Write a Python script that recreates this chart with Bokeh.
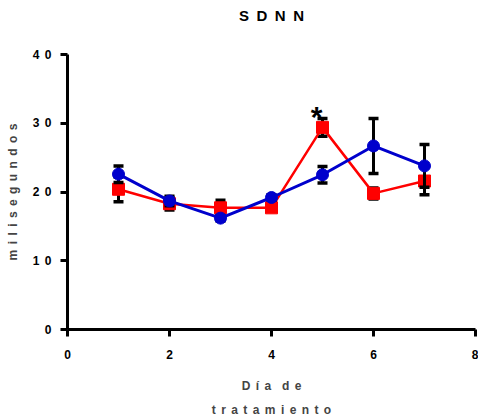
from bokeh.plotting import figure
from bokeh.models import ColumnDataSource, Range1d, FixedTicker, Label, Title
from bokeh.embed import file_html
from bokeh.resources import INLINE

# Treatment day and SDNN (ms) for the two groups, mean and error
days = [1, 2, 3, 4, 5, 6, 7]
red_mean = [20.4, 18.3, 17.7, 17.7, 29.4, 19.8, 21.6]
red_err = [1.8, 0.9, 1.1, 0.4, 1.3, 0.8, 2.0]
blue_mean = [22.6, 18.7, 16.2, 19.2, 22.5, 26.7, 23.8]
blue_err = [1.2, 0.7, 0.4, 0.4, 1.2, 4.0, 3.1]

x_ticks = [0, 2, 4, 6, 8]
y_ticks = [0, 10, 20, 30, 40]

title_text = "SDNN"
y_label = "milisegundos"
x_label_lines = ["Día de", "tratamiento"]
star_day = 5

FONT = "Liberation Sans"
RED = "#FF0000"
BLUE = "#0000CC"
TRACK = "\u2005\u2009"   # wide letter tracking


def track(s, gap=TRACK):
    """Spread the letters of a string apart."""
    return (gap + gap).join(gap.join(w) for w in s.split(" "))


p = figure(width=478, height=420, output_backend="svg", toolbar_location=None,
           x_range=Range1d(0, 8), y_range=Range1d(0, 40),
           min_border_left=67, min_border_right=3, min_border_top=53,
           min_border_bottom=91)

# an empty spacer next to the frame pushes the title towards the top edge
p.add_layout(Title(text=" ", text_font_size="1px", standoff=24), "above")
p.add_layout(Title(text=track(title_text, "\u2002"), align="center", text_font=FONT,
                   text_font_size="15px", text_font_style="bold",
                   text_color="black", standoff=8), "above")

p.grid.visible = False
p.outline_line_color = None
p.background_fill_color = "white"
p.border_fill_color = "white"

for ax in (p.xaxis[0], p.yaxis[0]):
    ax.axis_line_width = 3
    ax.major_tick_line_width = 3
    ax.major_tick_out = 7
    ax.major_tick_in = 0
    ax.minor_tick_line_color = None
    ax.major_label_text_font = FONT
    ax.major_label_text_font_size = "12px"
    ax.major_label_text_font_style = "bold"
    ax.major_label_text_color = "black"

p.xaxis.ticker = FixedTicker(ticks=x_ticks)
p.xaxis.major_label_standoff = 13
p.xaxis.axis_label = "\n".join(track(s) for s in x_label_lines)
p.xaxis.axis_label_text_font = FONT
p.xaxis.axis_label_text_font_size = "12px"
p.xaxis.axis_label_text_font_style = "bold"
p.xaxis.axis_label_text_line_height = 1.75
p.xaxis.axis_label_standoff = 17

p.yaxis.ticker = FixedTicker(ticks=y_ticks)
p.yaxis.major_label_overrides = {t: track(str(t)) for t in y_ticks}
p.yaxis.major_label_standoff = 9
p.yaxis.axis_label = track(y_label)
p.yaxis.axis_label_text_font = FONT
p.yaxis.axis_label_text_font_size = "12px"
p.yaxis.axis_label_text_font_style = "bold"
p.yaxis.axis_label_standoff = 10


def draw_series(mean, err, color, marker, lw):
    src = ColumnDataSource(dict(
        x=days, y=mean,
        lo=[m - e for m, e in zip(mean, err)],
        hi=[m + e for m, e in zip(mean, err)]))
    p.segment(x0="x", y0="lo", x1="x", y1="hi", source=src,
              line_color="black", line_width=3)
    p.scatter(x="x", y="hi", source=src, marker="dash", size=10,
              line_color="black", line_width=3.5)
    p.scatter(x="x", y="lo", source=src, marker="dash", size=10,
              line_color="black", line_width=3.5)
    p.line(x="x", y="y", source=src, line_color=color, line_width=lw)
    p.scatter(x="x", y="y", source=src, marker=marker, size=12,
              fill_color=color, line_color=color)


draw_series(red_mean, red_err, RED, "square", 2.5)
draw_series(blue_mean, blue_err, BLUE, "circle", 3)

# Significance mark above day 5 of the red group
i = days.index(star_day)
p.add_layout(Label(x=star_day, y=red_mean[i] + red_err[i], x_offset=-6, y_offset=2,
                   text="*", text_font=FONT, text_font_size="30px",
                   text_font_style="bold", text_align="center",
                   text_baseline="alphabetic", text_color="black"))

open("out.html", "w").write(file_html(p, INLINE))
